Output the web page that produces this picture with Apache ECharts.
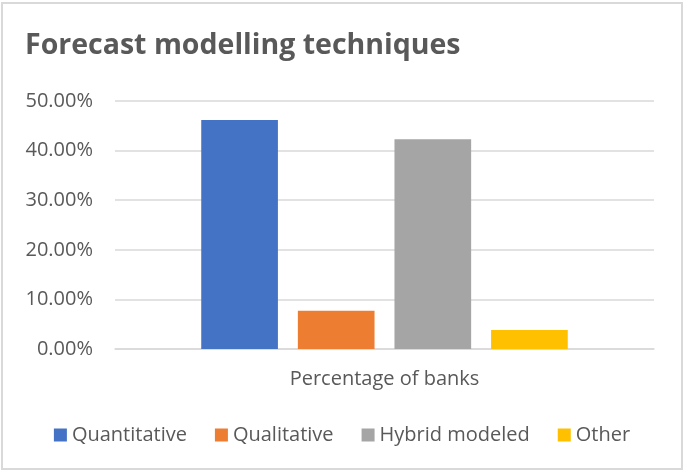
<!DOCTYPE html>
<html>
<head>
<meta charset="utf-8">
<script src="https://cdn.jsdelivr.net/npm/echarts@6/dist/echarts.min.js"></script>
<style>
  html, body { margin: 0; padding: 0; background: #fff; }
  #chart { width: 684px; height: 473px; }
</style>
</head>
<body>
<div id="chart"></div>
<script>
// data
var categories = ['Percentage of banks'];
var seriesNames = ['Quantitative', 'Qualitative', 'Hybrid modeled', 'Other'];
var seriesValues = [46.15, 7.69, 42.31, 3.85];
var seriesColors = ['#4472C4', '#ED7D31', '#A5A5A5', '#FFC000'];
var yTicks = [0, 10, 20, 30, 40, 50];

var chart = echarts.init(document.getElementById('chart'));

var series = seriesNames.map(function (name, i) {
  return {
    name: name,
    type: 'bar',
    data: [seriesValues[i]],
    barGap: '26%',
    barCategoryGap: '32%',
    itemStyle: { color: seriesColors[i] }
  };
});

chart.setOption({
  animation: false,
  textStyle: { fontFamily: 'Open Sans' },
  graphic: [{
    type: 'rect',
    shape: { x: 2, y: 3, width: 680, height: 466 },
    style: { fill: 'none', stroke: '#d9d9d9', lineWidth: 2 },
    silent: true
  }],
  title: {
    text: 'Forecast modelling techniques',
    left: 20,
    top: 26,
    textStyle: { fontSize: 28.5, fontWeight: 'bold', color: '#595959', fontFamily: 'Open Sans' }
  },
  legend: {
    data: seriesNames,
    top: 420,
    left: 'center',
    icon: 'rect',
    itemWidth: 13,
    itemHeight: 13,
    itemGap: 28,
    textStyle: { fontSize: 20, color: '#595959' }
  },
  grid: { left: 115, right: 30, top: 101, bottom: 124 },
  xAxis: {
    type: 'category',
    data: categories,
    axisLine: { lineStyle: { color: '#d9d9d9', width: 1.5 } },
    axisTick: { show: false },
    axisLabel: { fontSize: 20, color: '#595959', margin: 20 }
  },
  yAxis: {
    type: 'value',
    min: yTicks[0],
    max: yTicks[yTicks.length - 1],
    interval: yTicks[1] - yTicks[0],
    axisLine: { show: false },
    axisTick: { show: false },
    axisLabel: {
      fontSize: 20,
      color: '#595959',
      margin: 22,
      formatter: function (v) { return v.toFixed(2) + '%'; }
    },
    splitLine: { lineStyle: { color: '#d9d9d9', width: 1.5 } }
  },
  series: series
});
</script>
</body>
</html>
